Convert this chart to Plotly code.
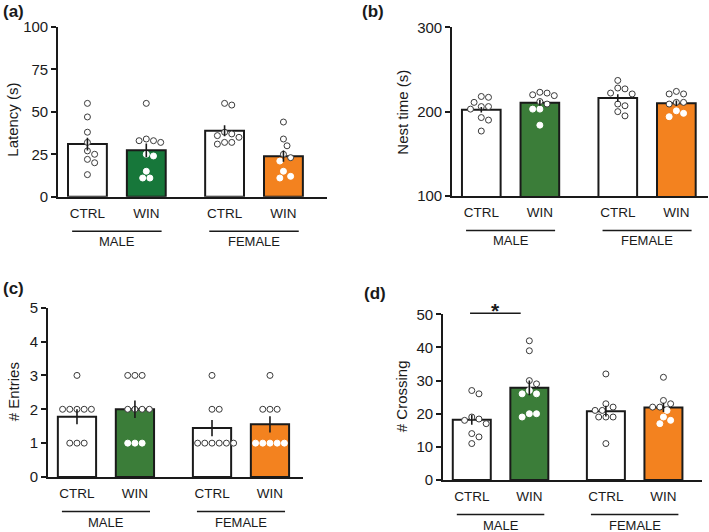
import numpy as np
import plotly.graph_objects as go

W, H = 709, 532

################ data
groups = ['CTRL', 'WIN', 'CTRL', 'WIN']
sexes = ['MALE', 'FEMALE']
xpos = [0, 1, 2.33, 3.33]

latency = [
    [55, 47, 38, 32, 27, 25, 22, 20, 13],
    [55, 33, 32, 33, 34, 25, 24, 15, 11, 11],
    [54, 55, 37, 36, 38, 35, 32, 31, 32],
    [44, 34, 30, 23, 21, 25, 15, 11, 12],
]
latency_sem = [3.8, 4.0, 3.2, 3.3]

nest_time = [
    [218, 217, 211, 206, 203, 206, 193, 190, 177],
    [220, 223, 219, 222, 212, 209, 203, 203, 184],
    [237, 227, 228, 222, 221, 209, 207, 200, 195],
    [224, 221, 221, 211, 211, 209, 201, 194, 198],
]
nest_sem = [3.3, 3.5, 4.5, 3.3]

entries = [
    [3, 2, 2, 2, 2, 2, 1, 1, 1],
    [3, 3, 3, 2, 2, 2, 2, 1, 1, 1],
    [3, 2, 2, 1, 1, 1, 1, 1, 1],
    [3, 2, 2, 2, 1, 1, 1, 1, 1],
]
entries_sem = [0.22, 0.26, 0.24, 0.24]

crossing = [
    [27, 26, 18, 17, 18.4, 19, 11, 14, 13],
    [42, 39, 30, 29, 26, 26, 27, 20, 19, 20],
    [32, 21, 22, 23, 21, 19, 19, 19, 11],
    [31, 23, 24, 22, 22, 19, 18, 17, 21],
]
crossing_sem = [1.5, 2.2, 1.6, 1.4]

orange = '#f3821f'
ink = '#1a1a1a'
font = 'Arial, Liberation Sans, sans-serif'

# box = (left, top, right, bottom) of each plot area, in px
panels = [
    dict(data=latency, sem=latency_sem, title='Latency (s)', yr=[0, 100],
         tv=[0, 25, 50, 75, 100], box=(58, 27, 327, 196.7), xr=[-0.5, 4.07],
         green='#17773a', label='(a)', lab=(13, 11.5), tpos=(11.7, 120)),
    dict(data=nest_time, sem=nest_sem, title='Nest time (s)', yr=[100, 300],
         tv=[100, 200, 300], box=(452, 27.3, 708, 196), xr=[-0.5, 3.87],
         green='#3b7d39', label='(b)', lab=(373, 12), tpos=(401.7, 112)),
    dict(data=entries, sem=entries_sem, title='# Entries', yr=[0, 5],
         tv=[0, 1, 2, 3, 4, 5], box=(48, 307.7, 303, 477), xr=[-0.5, 3.9],
         green='#3b7d39', label='(c)', lab=(13, 288), tpos=(13.3, 392)),
    dict(data=crossing, sem=crossing_sem, title='# Crossing', yr=[0, 50],
         tv=[0, 10, 20, 30, 40, 50], box=(443, 314.3, 702, 480), xr=[-0.5, 4.0],
         green='#3b7d39', label='(d)', lab=(375, 293), tpos=(401.7, 396.5)),
]


def swarm(vals, ppx, ppy, d=7.2):
    # simple beeswarm: place each dot as near the centre as possible without overlap
    order = np.argsort(vals)[::-1]
    placed, offs = [], [0.0] * len(vals)
    cands = [0.0]
    for i in range(1, 40):
        cands += [i * d / 2, -i * d / 2]
    for k in order:
        yv = vals[k] * ppy
        for c in cands:
            if all((c - px) ** 2 + (yv - py) ** 2 >= d * d * 0.98 for px, py in placed):
                break
        placed.append((c, yv))
        offs[k] = c / ppx
    return offs


fig = go.Figure()
annotations = []
shapes = []

for n, p in enumerate(panels, start=1):
    sx = '' if n == 1 else str(n)
    xa, ya = 'x' + sx, 'y' + sx
    l, t, r, b = p['box']
    ppx = (r - l) / (p['xr'][1] - p['xr'][0])
    ppy = (b - t) / (p['yr'][1] - p['yr'][0])
    fills = ['white', p['green'], 'white', orange]
    means = [float(np.mean(v)) for v in p['data']]

    fig.add_trace(go.Bar(x=xpos, y=means, width=0.66, xaxis=xa, yaxis=ya,
                         marker=dict(color=fills, line=dict(color=ink, width=2))))

    for i, vals in enumerate(p['data']):
        offs = swarm(vals, ppx, ppy)
        # dots sitting inside a coloured bar look plain white
        lc = ['white' if (fills[i] != 'white' and v < means[i] - 0.5 / ppy * 4) else '#3a3a3a'
              for v in vals]
        fig.add_trace(go.Scatter(x=[xpos[i] + o for o in offs], y=vals, mode='markers',
                                 xaxis=xa, yaxis=ya, cliponaxis=False,
                                 marker=dict(size=6, color='white', line=dict(color=lc, width=1))))

    fig.add_trace(go.Scatter(x=xpos, y=means, mode='markers', xaxis=xa, yaxis=ya,
                             marker=dict(size=2, color='rgba(0,0,0,0)'),
                             error_y=dict(type='data', array=p['sem'], width=0,
                                          thickness=1.6, color=ink)))

    fig.update_layout(**{
        'xaxis' + sx: dict(domain=[l / W, r / W], anchor=ya, range=p['xr'], automargin=False,
                           tickvals=xpos, ticktext=groups, showline=True,
                           linecolor=ink, linewidth=1.6, ticks='outside', ticklen=3,
                           tickcolor='rgba(0,0,0,0)', showgrid=False, zeroline=False,
                           tickfont=dict(size=13.5, color=ink)),
        'yaxis' + sx: dict(domain=[1 - b / H, 1 - t / H], anchor=xa, range=p['yr'],
                           automargin=False,
                           tickvals=p['tv'], showline=True, linecolor=ink, linewidth=1.6,
                           ticks='outside', ticklen=5, tickwidth=1.6, tickcolor=ink,
                           showgrid=False, zeroline=False,
                           tickfont=dict(size=15, color=ink)),
    })

    # group underlines and sex labels
    for g, sex in enumerate(sexes):
        cx = (xpos[2 * g] + xpos[2 * g + 1]) / 2
        shapes.append(dict(type='line', xref=xa, yref='paper', x0=cx - 0.76, x1=cx + 0.76,
                           y0=1 - (b + 34.5) / H, y1=1 - (b + 34.5) / H,
                           line=dict(color=ink, width=1.5)))
        annotations.append(dict(xref=xa, yref='paper', x=cx, y=1 - (b + 45) / H,
                                text=sex, showarrow=False, xanchor='center', yanchor='middle',
                                font=dict(size=13, color=ink)))

    annotations.append(dict(xref='paper', yref='paper', x=p['tpos'][0] / W,
                            y=1 - p['tpos'][1] / H, text=p['title'], textangle=-90,
                            xanchor='center', yanchor='middle',
                            showarrow=False, font=dict(size=15, color=ink)))
    annotations.append(dict(xref='paper', yref='paper', x=p['lab'][0] / W,
                            y=1 - p['lab'][1] / H, text='<b>' + p['label'] + '</b>',
                            xanchor='center', yanchor='middle',
                            showarrow=False, font=dict(size=17, color=ink)))

# significance bar, panel (d)
bd = panels[3]['box']
shapes.append(dict(type='line', xref='x4', yref='paper', x0=xpos[0] - 0.03, x1=xpos[1] - 0.15,
                   y0=1 - (bd[1] - 1) / H, y1=1 - (bd[1] - 1) / H,
                   line=dict(color=ink, width=1.5)))
annotations.append(dict(xref='x4', yref='paper', x=(xpos[0] + xpos[1]) / 2 - 0.09,
                        y=1 - (bd[1] - 4) / H, text='<b>*</b>', showarrow=False,
                        xanchor='center', yanchor='middle',
                        font=dict(size=21, color=ink)))

fig.update_layout(template='none', width=W, height=H, margin=dict(l=0, r=0, t=0, b=0),
                  paper_bgcolor='white', plot_bgcolor='white', showlegend=False,
                  font=dict(family=font, color=ink), annotations=annotations, shapes=shapes)

# drop the browser's default body margin so the figure sits at the page corner
fig.write_html("out.html", config={'displayModeBar': False},
               post_script="document.body.style.margin='0';")
